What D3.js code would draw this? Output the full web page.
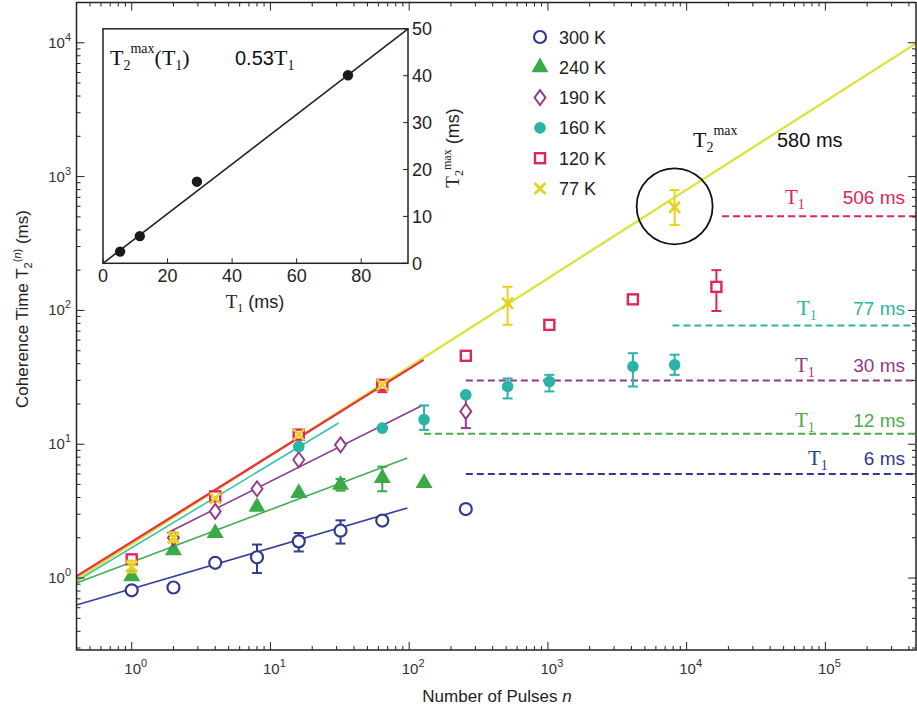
<!DOCTYPE html>
<html><head><meta charset="utf-8">
<script src="https://cdn.jsdelivr.net/npm/d3@7"></script>
<style>body{margin:0;background:#fff} svg{display:block}</style>
</head><body><svg id="c" width="917" height="711"></svg>
<script>
// ---------- data ----------
const xTickExps = [0, 1, 2, 3, 4, 5];
const yTickExps = [0, 1, 2, 3, 4];
const temps = ["300 K", "240 K", "190 K", "160 K", "120 K", "77 K"];
const colors = ["#2e3b8f", "#3aaa48", "#93398a", "#2bb3a6", "#e2245c", "#e6d21f"];
const lineColors = ["#33409a", "#45ad50", "#8e3d8c", "#38c2b6", "#e8333c", "#dbe23c"];

const n300 = [1, 2, 4, 8, 16, 32, 64, 256];
const T300 = [0.81, 0.85, 1.30, 1.43, 1.88, 2.26, 2.69, 3.28];
const err300 = [[4, 1.22, 1.38], [8, 1.09, 1.78], [16, 1.58, 2.17], [32, 1.81, 2.70]];

const n240 = [1, 2, 4, 8, 16, 32, 64, 128];
const T240 = [1.03, 1.61, 2.17, 3.40, 4.32, 4.98, 5.58, 5.13];
const err240 = [[32, 4.5, 5.5], [64, 4.45, 6.8]];

const n190 = [2, 4, 8, 16, 32, 256];
const T190 = [2.0, 3.15, 4.65, 7.66, 9.9, 17.6];
const err190 = [[256, 13.2, 22.7]];

const n160 = [16, 64, 128, 256, 512, 1024, 4096, 8192];
const T160 = [9.6, 13.2, 15.3, 23.4, 27.0, 29.4, 38.1, 39.2];
const err160 = [[128, 12.8, 19.5], [512, 22, 31], [1024, 24.8, 33], [4096, 27, 47.9], [8192, 33, 46.7]];

const n120 = [1, 4, 16, 64, 256, 1024, 4096, 16384];
const T120 = [1.38, 4.08, 11.8, 27.8, 45.8, 78, 121, 150];
const err120 = [[64, 24.5, 29.5], [16384, 99, 200]];

const n77 = [1, 2, 4, 16, 64, 512, 8192];
const T77 = [1.22, 2.0, 3.94, 11.8, 27.8, 113, 590];
const err77 = [[1, 1.1, 1.35], [2, 1.85, 2.2], [512, 78, 150], [8192, 435, 794]];

// fit lines: [nStart, Tstart, nEnd, Tend]
const fit300 = [0.4, 0.63, 97, 3.34];
const fit240 = [0.4, 0.92, 97, 7.9];
const fit190 = [1.8, 2.17, 123, 19.4];
const fit160 = [0.4, 0.95, 31, 14.4];
const fit77 = [0.4, 0.98, 4.5e5, 9900];
const fit120 = [0.4, 1.03, 127, 42.7];

// T1 limits: value, start n, label
const t1Values = [506, 77, 30, 12, 6];
const t1Start = [18000, 7900, 256, 128, 256];
const t1Colors = ["#e2245c", "#2bb3a6", "#93398a", "#4aab4a", "#2e3b8f"];

// inset
const insetT1 = [5.3, 11.4, 29.1, 75.9];
const insetT2 = [2.5, 5.8, 17.4, 40.1];
const insetFit = [[0, 0], [94.5, 50]];
const insetXTicks = [0, 20, 40, 60, 80];
const insetYTicks = [0, 10, 20, 30, 40, 50];

const t2maxPoint = [8192, 600];

// ---------- drawing ----------
const svg = d3.select("#c");
const SANS = "'Liberation Sans', Arial, Helvetica, sans-serif";
const SERIF = "'Liberation Serif', 'Times New Roman', serif";
const L = 76.5, R = 916, T = 2.5, B = 650;
const x = d3.scaleLog().domain([0.4, 4.5e5]).range([L, R]);
const y = d3.scaleLog().domain([0.29, 2e4]).range([B, T]);

svg.append("defs").append("clipPath").attr("id", "pc")
  .append("rect").attr("x", L).attr("y", T).attr("width", R - L).attr("height", B - T);

const plot = svg.append("g").attr("clip-path", "url(#pc)");

// fit lines
const fits = [fit300, fit240, fit190, fit160, fit77, fit120];
const fitColorIdx = [0, 1, 2, 3, 5, 4];
fits.forEach((f, i) => {
  plot.append("line")
    .attr("x1", x(f[0])).attr("y1", y(f[1]))
    .attr("x2", x(f[2])).attr("y2", y(f[3]))
    .attr("stroke", lineColors[fitColorIdx[i]])
    .attr("stroke-width", (fitColorIdx[i] >= 4) ? 2.3 : 1.6);
});

// T1 dashed lines
t1Values.forEach((v, i) => {
  plot.append("line")
    .attr("x1", x(t1Start[i])).attr("x2", R)
    .attr("y1", y(v)).attr("y2", y(v))
    .attr("stroke", t1Colors[i]).attr("stroke-width", 2)
    .attr("stroke-dasharray", "7,4");
});

// markers
const seriesN = [n300, n240, n190, n160, n120, n77];
const seriesT = [T300, T240, T190, T160, T120, T77];
const seriesE = [err300, err240, err190, err160, err120, err77];

function drawMarker(g, i, cx, cy) {
  const c = colors[i];
  if (i === 0) {
    g.append("circle").attr("cx", cx).attr("cy", cy).attr("r", 6)
      .attr("fill", "white").attr("stroke", c).attr("stroke-width", 2.2);
  } else if (i === 1) {
    g.append("path").attr("transform", `translate(${cx},${cy})`)
      .attr("d", d3.symbol(d3.symbolTriangle, 125)()).attr("fill", c);
  } else if (i === 2) {
    g.append("path").attr("transform", `translate(${cx},${cy})`)
      .attr("d", "M0,-7.5L5.5,0L0,7.5L-5.5,0Z")
      .attr("fill", "white").attr("stroke", c).attr("stroke-width", 1.9);
  } else if (i === 3) {
    g.append("circle").attr("cx", cx).attr("cy", cy).attr("r", 5.8).attr("fill", c);
  } else if (i === 4) {
    g.append("rect").attr("x", cx - 5).attr("y", cy - 5).attr("width", 10).attr("height", 10)
      .attr("fill", "white").attr("stroke", c).attr("stroke-width", 2.4);
  } else {
    g.append("path").attr("transform", `translate(${cx},${cy})`)
      .attr("d", "M-5.5,-5.5L5.5,5.5M-5.5,5.5L5.5,-5.5")
      .attr("stroke", c).attr("stroke-width", 2.8).attr("fill", "none");
  }
}

const mg = svg.append("g");
seriesN.forEach((ns, i) => {
  const g = mg.append("g");
  seriesE[i].forEach(e => {
    const cx = x(e[0]);
    g.append("line").attr("x1", cx).attr("x2", cx).attr("y1", y(e[1])).attr("y2", y(e[2]))
      .attr("stroke", colors[i]).attr("stroke-width", 2);
    [e[1], e[2]].forEach(v => g.append("line").attr("x1", cx - 5).attr("x2", cx + 5)
      .attr("y1", y(v)).attr("y2", y(v)).attr("stroke", colors[i]).attr("stroke-width", 2));
  });
  ns.forEach((n, k) => drawMarker(g, i, x(n), y(seriesT[i][k])));
});

// circle around T2max
svg.append("circle").attr("cx", x(t2maxPoint[0])).attr("cy", y(t2maxPoint[1]))
  .attr("r", 38).attr("fill", "none").attr("stroke", "#111").attr("stroke-width", 1.8);

// frame
svg.append("rect").attr("x", L).attr("y", T).attr("width", R - L).attr("height", B - T)
  .attr("fill", "none").attr("stroke", "#222").attr("stroke-width", 1.5);

// ticks
const tg = svg.append("g").attr("stroke", "#222").attr("stroke-width", 1);
for (let e = -1; e <= 5; e++) {
  for (let m = 1; m <= 9; m++) {
    const v = m * Math.pow(10, e);
    if (v < 0.4 || v > 4.5e5) continue;
    const xx = x(v), len = m === 1 ? 8 : 4;
    tg.append("line").attr("x1", xx).attr("x2", xx).attr("y1", B).attr("y2", B - len);
    tg.append("line").attr("x1", xx).attr("x2", xx).attr("y1", T).attr("y2", T + len);
  }
}
for (let e = -1; e <= 4; e++) {
  for (let m = 1; m <= 9; m++) {
    const v = m * Math.pow(10, e);
    if (v < 0.29 || v > 2e4) continue;
    const yy = y(v), len = m === 1 ? 8 : 4;
    tg.append("line").attr("y1", yy).attr("y2", yy).attr("x1", L).attr("x2", L + len);
    tg.append("line").attr("y1", yy).attr("y2", yy).attr("x1", R).attr("x2", R - len);
  }
}

// tick labels
function powLabel(g, px, py, exp, anchor) {
  const t = g.append("text").attr("x", px).attr("y", py).attr("text-anchor", anchor)
    .attr("font-family", SANS).attr("font-size", 15).attr("fill", "#333");
  t.append("tspan").text("10");
  t.append("tspan").attr("dy", -7).attr("font-size", 11).text(exp);
}
const lg = svg.append("g");
xTickExps.forEach(e => powLabel(lg, x(Math.pow(10, e)) + 4, 674, e, "middle"));
yTickExps.forEach(e => powLabel(lg, 71, y(Math.pow(10, e)) + 5, e, "end"));

// axis titles
const xt = svg.append("text").attr("x", 497).attr("y", 702).attr("text-anchor", "middle")
  .attr("font-family", SANS).attr("font-size", 17).attr("fill", "#222");
xt.append("tspan").text("Number of Pulses ");
xt.append("tspan").attr("font-style", "italic").text("n");

const yt = svg.append("text").attr("transform", "translate(28,309) rotate(-90)")
  .attr("text-anchor", "middle").attr("font-family", SANS).attr("font-size", 17).attr("fill", "#222");
yt.append("tspan").text("Coherence Time T");
yt.append("tspan").attr("font-size", 11).attr("dy", 4).text("2");
yt.append("tspan").attr("font-size", 11).attr("dy", -11).text("(");
yt.append("tspan").attr("font-size", 11).attr("font-style", "italic").text("n");
yt.append("tspan").attr("font-size", 11).text(")");
yt.append("tspan").attr("dy", 7).text(" (ms)");

// legend
temps.forEach((t, i) => {
  const ly = 37 + i * 30.3;
  drawMarker(svg, i, 540, ly);
  svg.append("text").attr("x", 559).attr("y", ly + 6.5).attr("font-family", SANS)
    .attr("font-size", 18).attr("fill", "#222").text(t);
});

// T2max label
const tm = svg.append("text").attr("x", 693).attr("y", 147).attr("font-family", SERIF)
  .attr("font-size", 22).attr("fill", "#111");
tm.append("tspan").text("T");
tm.append("tspan").attr("font-size", 14).attr("dy", 5).text("2");
tm.append("tspan").attr("font-size", 14).attr("dy", -17).text("max");
svg.append("text").attr("x", 777).attr("y", 147).attr("font-family", SANS)
  .attr("font-size", 20).attr("fill", "#111").text("580 ms");

// T1 labels
const t1LabelX = [785, 797, 795, 795, 808];
const t1LabelY = [204, 315, 372, 427, 465];
t1Values.forEach((v, i) => {
  const t = svg.append("text").attr("x", t1LabelX[i]).attr("y", t1LabelY[i])
    .attr("font-family", SERIF).attr("font-size", 21).attr("fill", t1Colors[i]);
  t.append("tspan").text("T");
  t.append("tspan").attr("font-size", 14).attr("dy", 5).text("1");
  svg.append("text").attr("x", 905).attr("y", t1LabelY[i]).attr("text-anchor", "end")
    .attr("font-family", SANS).attr("font-size", 19).attr("fill", t1Colors[i]).text(v + " ms");
});

// ---------- inset ----------
const IL = 103, IR = 408, IT = 28.8, IB = 263.3;
const ix = d3.scaleLinear().domain([0, 94.5]).range([IL, IR]);
const iy = d3.scaleLinear().domain([0, 50]).range([IB, IT]);
const ig = svg.append("g");
ig.append("rect").attr("x", IL).attr("y", IT).attr("width", IR - IL).attr("height", IB - IT)
  .attr("fill", "white").attr("stroke", "#222").attr("stroke-width", 1.5);
ig.append("line").attr("x1", ix(insetFit[0][0])).attr("y1", iy(insetFit[0][1]))
  .attr("x2", ix(insetFit[1][0])).attr("y2", iy(insetFit[1][1]))
  .attr("stroke", "#222").attr("stroke-width", 1.6);
insetT1.forEach((v, k) => ig.append("circle").attr("cx", ix(v)).attr("cy", iy(insetT2[k]))
  .attr("r", 5.2).attr("fill", "#1a1a1a"));
insetXTicks.forEach(v => {
  ig.append("line").attr("x1", ix(v)).attr("x2", ix(v)).attr("y1", IB).attr("y2", IB - 5).attr("stroke", "#222");
  ig.append("text").attr("x", ix(v)).attr("y", 282).attr("text-anchor", "middle")
    .attr("font-family", SANS).attr("font-size", 18).attr("fill", "#222").text(v);
});
insetYTicks.forEach(v => {
  ig.append("line").attr("x1", IR).attr("x2", IR - 5).attr("y1", iy(v)).attr("y2", iy(v)).attr("stroke", "#222");
  ig.append("text").attr("x", 412).attr("y", iy(v) + 6.5).attr("text-anchor", "start")
    .attr("font-family", SANS).attr("font-size", 18).attr("fill", "#222").text(v);
});
const ixl = ig.append("text").attr("x", 255).attr("y", 308).attr("text-anchor", "middle")
  .attr("font-family", SANS).attr("font-size", 18).attr("fill", "#222");
ixl.append("tspan").attr("font-family", SERIF).attr("font-size", 19).text("T");
ixl.append("tspan").attr("font-family", SERIF).attr("font-size", 12).attr("dy", 4).text("1");
ixl.append("tspan").attr("dy", -4).text(" (ms)");

const iyl = ig.append("text").attr("transform", "translate(459,148) rotate(-90)")
  .attr("text-anchor", "middle").attr("font-family", SANS).attr("font-size", 18).attr("fill", "#222");
iyl.append("tspan").attr("font-family", SERIF).attr("font-size", 19).text("T");
iyl.append("tspan").attr("font-family", SERIF).attr("font-size", 12).attr("dy", 4).text("2");
iyl.append("tspan").attr("font-family", SERIF).attr("font-size", 12).attr("dy", -12).text("max");
iyl.append("tspan").attr("dy", 8).text(" (ms)");

const it = ig.append("text").attr("x", 110).attr("y", 65).attr("font-family", SERIF)
  .attr("font-size", 22).attr("fill", "#111");
it.append("tspan").text("T");
it.append("tspan").attr("font-size", 14).attr("dy", 5).text("2");
it.append("tspan").attr("font-size", 14).attr("dy", -17).text("max");
it.append("tspan").attr("dy", 12).text("(T");
it.append("tspan").attr("font-size", 14).attr("dy", 5).text("1");
it.append("tspan").attr("dy", -5).text(")");
const it2 = ig.append("text").attr("x", 235).attr("y", 65).attr("font-family", SANS)
  .attr("font-size", 20).attr("fill", "#111");
it2.append("tspan").text("0.53");
it2.append("tspan").attr("font-family", SERIF).attr("font-size", 22).text("T");
it2.append("tspan").attr("font-family", SERIF).attr("font-size", 14).attr("dy", 5).text("1");
</script></body></html>
